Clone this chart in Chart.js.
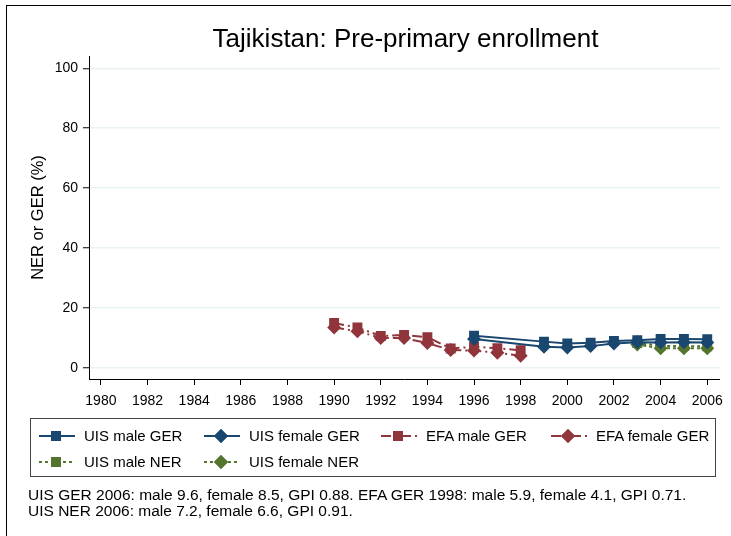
<!DOCTYPE html>
<html>
<head>
<meta charset="utf-8">
<script src="https://cdn.jsdelivr.net/npm/chart.js@4.4.1/dist/chart.umd.min.js"></script>
<style>
  html, body { margin: 0; padding: 0; background: #fff; }
  body { width: 731px; height: 536px; position: relative; overflow: hidden; font-family: "Liberation Sans", Arial, sans-serif; color: #000; }
  #wrap { position: absolute; left: 0; top: 0; width: 731px; height: 536px; }
  .frame { position: absolute; left: 6px; top: 5px; width: 760px; height: 560px; border-left: 1px solid #000; border-top: 1px solid #000; }
  .title { position: absolute; left: 89px; width: 633px; top: 25px; line-height: 26px; text-align: center; font-size: 26px; }
  .legend { position: absolute; left: 30px; top: 418px; width: 686px; height: 59px; border: 1px solid #444; box-sizing: border-box; }
  .item { position: absolute; font-size: 15px; line-height: 16px; height: 16px; white-space: nowrap; }
  .item canvas { position: absolute; left: 0; top: 0; }
  .item span { position: absolute; top: 0; }
  .note { position: absolute; left: 28px; font-size: 15.5px; line-height: 16px; white-space: nowrap; }
</style>
</head>
<body>
<div id="wrap"><canvas id="c" width="731" height="536"></canvas></div>
<div class="frame"></div>
<div class="title">Tajikistan: Pre-primary enrollment</div>
<div class="legend" id="legend"></div>
<div class="note" style="top:487px">UIS GER 2006: male 9.6, female 8.5, GPI 0.88. EFA GER 1998: male 5.9, female 4.1, GPI 0.71.<br>UIS NER 2006: male 7.2, female 6.6, GPI 0.91.</div>
<script>
// data
const xTicks = [1980, 1982, 1984, 1986, 1988, 1990, 1992, 1994, 1996, 1998, 2000, 2002, 2004, 2006];
const yTicks = [0, 20, 40, 60, 80, 100];

const efaYears = [1990, 1991, 1992, 1993, 1994, 1995, 1996, 1997, 1998];
const efaMaleGER = [15.0, 13.5, 10.7, 11.0, 10.3, 6.5, 7.1, 6.6, 5.9];
const efaFemaleGER = [13.5, 12.3, 10.0, 10.0, 8.3, 6.0, 5.8, 5.1, 4.1];

const uisGerYears = [1996, 1999, 2000, 2001, 2002, 2003, 2004, 2005, 2006];
const uisMaleGER = [10.8, 8.8, 8.2, 8.4, 9.0, 9.3, 9.7, 9.7, 9.6];
const uisFemaleGER = [9.7, 7.1, 6.8, 7.3, 8.2, 8.6, 8.5, 8.6, 8.5];

const uisNerYears = [2003, 2004, 2005, 2006];
const uisMaleNER = [8.3, 7.4, 7.3, 7.2];
const uisFemaleNER = [7.8, 6.6, 6.6, 6.6];

const NAVY = '#1a476f';
const MAROON = '#90353b';
const GREEN = '#55752f';

const pts = (xs, ys) => xs.map((x, i) => ({ x, y: ys[i] }));

const series = [
  { label: 'UIS male GER', xs: uisGerYears, ys: uisMaleGER, color: NAVY, style: 'rect', dash: [] },
  { label: 'UIS female GER', xs: uisGerYears, ys: uisFemaleGER, color: NAVY, style: 'rectRot', dash: [] },
  { label: 'EFA male GER', xs: efaYears, ys: efaMaleGER, color: MAROON, style: 'rect', dash: [10, 4, 2, 4] },
  { label: 'EFA female GER', xs: efaYears, ys: efaFemaleGER, color: MAROON, style: 'rectRot', dash: [10, 4, 2, 4] },
  { label: 'UIS male NER', xs: uisNerYears, ys: uisMaleNER, color: GREEN, style: 'rect', dash: [3, 3] },
  { label: 'UIS female NER', xs: uisNerYears, ys: uisFemaleNER, color: GREEN, style: 'rectRot', dash: [3, 3] },
];

const datasets = series.map((s) => ({
  label: s.label,
  data: pts(s.xs, s.ys),
  borderColor: s.color,
  backgroundColor: s.color,
  borderWidth: 2,
  borderDash: s.dash,
  pointStyle: s.style,
  pointRadius: 7,
  pointBorderWidth: 0,
  pointBackgroundColor: s.color,
  tension: 0,
}));

const FONT = '"Liberation Sans", Arial, sans-serif';
const tickFont = { family: FONT, size: 14 };

new Chart(document.getElementById('c'), {
  type: 'line',
  data: { datasets },
  options: {
    responsive: false,
    animation: false,
    layout: { padding: { left: 29, top: 56, right: 9, bottom: 127 } },
    plugins: { legend: { display: false }, tooltip: { enabled: false } },
    scales: {
      x: {
        type: 'linear',
        min: 1979.49,
        max: 2006.54,
        afterBuildTicks: (scale) => { scale.ticks = xTicks.map((v) => ({ value: v })); },
        afterFit: (scale) => { scale.height = 30; },
        ticks: { color: '#000', font: tickFont, padding: 8, maxRotation: 0, autoSkip: false, callback: (v) => String(v) },
        grid: { drawOnChartArea: false, drawTicks: true, tickLength: 6, tickColor: '#000', tickWidth: 1 },
        border: { color: '#000', width: 1 },
      },
      y: {
        min: -3.67,
        max: 104.1,
        afterBuildTicks: (scale) => { scale.ticks = yTicks.map((v) => ({ value: v })); },
        afterFit: (scale) => { scale.width = 60; },
        ticks: { color: '#000', font: tickFont, padding: 5 },
        grid: { color: '#eaf2f3', lineWidth: 1.5, tickLength: 6, tickColor: '#000', tickWidth: 1 },
        border: { color: '#000', width: 1 },
        title: { display: true, text: 'NER or GER (%)', color: '#000', font: { family: FONT, size: 16.5 }, padding: { top: 0, bottom: 0 } },
      },
    },
  },
});

// legend built as html, symbols drawn on small canvases
const legendPos = [
  [8, 9], [173, 9], [350, 9], [520, 9],
  [8, 35], [173, 35],
];
const legendEl = document.getElementById('legend');
series.forEach((s, i) => {
  const [lx, ly] = legendPos[i];
  const item = document.createElement('div');
  item.className = 'item';
  item.style.left = lx + 'px';
  item.style.top = ly + 'px';
  const cv = document.createElement('canvas');
  cv.width = 36; cv.height = 16;
  const ctx = cv.getContext('2d');
  ctx.strokeStyle = s.color;
  ctx.fillStyle = s.color;
  ctx.lineWidth = 2;
  ctx.setLineDash(s.dash);
  ctx.beginPath(); ctx.moveTo(0, 8); ctx.lineTo(36, 8); ctx.stroke();
  ctx.setLineDash([]);
  Chart.helpers.drawPoint(ctx, { pointStyle: s.style, radius: 7, borderWidth: 0 }, 17, 8);
  ctx.fill();
  const sp = document.createElement('span');
  sp.style.left = '45px';
  sp.textContent = s.label;
  item.appendChild(cv);
  item.appendChild(sp);
  legendEl.appendChild(item);
});
</script>
</body>
</html>
